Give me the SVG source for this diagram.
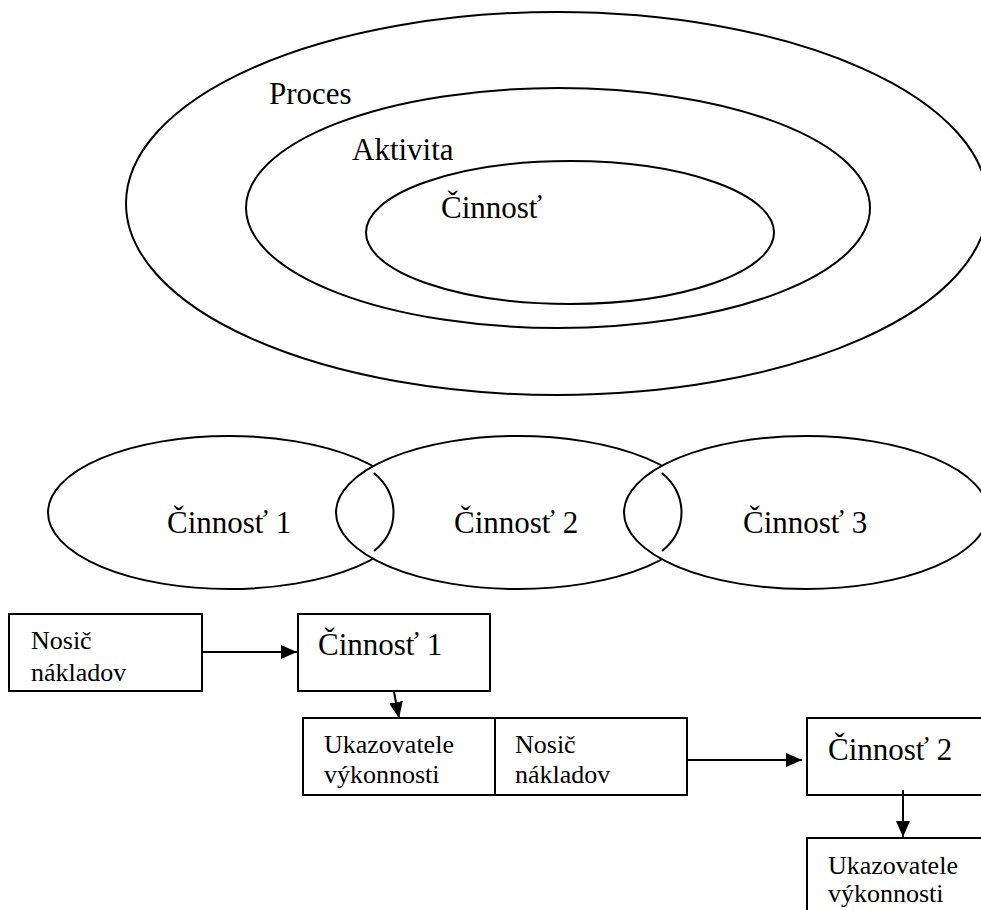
<svg xmlns="http://www.w3.org/2000/svg" width="981" height="910" viewBox="0 0 981 910">
  <style>
    .shape { fill: none; stroke: #000; stroke-width: 2; }
    .filled { fill: #fff; stroke: #000; stroke-width: 2; }
    .big { font-family: "Liberation Serif", "Times New Roman", serif; font-size: 31px; fill: #000; }
    .small { font-family: "Liberation Serif", "Times New Roman", serif; font-size: 26px; fill: #000; }
    .link { fill: none; stroke: #000; stroke-width: 2; marker-end: url(#arrow); }
  </style>
  <defs>
    <marker id="arrow" markerUnits="userSpaceOnUse" markerWidth="16" markerHeight="14" refX="16" refY="7" orient="auto">
      <path d="M0,0 L16,7 L0,14 Z" fill="#000"/>
    </marker>
  </defs>
  <rect width="981" height="910" fill="#fff"/>

  <!-- nested hierarchy: process > activity > task -->
  <g id="proces">
    <ellipse class="shape" cx="557" cy="203.5" rx="431" ry="191.5"/>
    <text class="big" x="269" y="104">Proces</text>
  </g>
  <g id="aktivita">
    <ellipse class="shape" cx="558" cy="208" rx="312" ry="120"/>
    <text class="big" x="352" y="160">Aktivita</text>
  </g>
  <g id="cinnost">
    <ellipse class="shape" cx="570" cy="232.5" rx="204" ry="71.5"/>
    <text class="big" x="441" y="218">Činnosť</text>
  </g>

  <!-- chain of overlapping tasks -->
  <g id="cinnost-1">
    <ellipse class="shape" cx="229" cy="512.5" rx="181" ry="76.5"/>
  </g>
  <g id="cinnost-2">
    <ellipse class="filled" cx="518" cy="512.5" rx="182" ry="76.5"/>
    <path class="shape" d="M374,473 C400,495 400,530 374,551"/>
  </g>
  <g id="cinnost-3">
    <ellipse class="filled" cx="806" cy="512.5" rx="182" ry="76.5"/>
    <path class="shape" d="M662,473 C688,495 688,530 662,551"/>
  </g>
  <g id="chain-labels">
    <text class="big" x="167" y="533">Činnosť 1</text>
    <text class="big" x="454" y="533">Činnosť 2</text>
    <text class="big" x="743" y="533">Činnosť 3</text>
  </g>

  <!-- cost flow boxes -->
  <g id="nosic-1">
    <rect class="shape" x="9" y="614" width="193" height="77"/>
    <text class="small" x="31" y="649">Nosič</text>
    <text class="small" x="31" y="681">nákladov</text>
  </g>
  <g id="box-cinnost-1">
    <rect class="shape" x="298" y="614" width="192" height="77"/>
    <text class="big" x="318" y="655">Činnosť 1</text>
  </g>
  <g id="vystup-1">
    <rect class="shape" x="303" y="718" width="384" height="77"/>
    <line class="shape" x1="495" y1="718" x2="495" y2="795"/>
    <text class="small" x="324" y="753">Ukazovatele</text>
    <text class="small" x="324" y="783">výkonnosti</text>
    <text class="small" x="515" y="753">Nosič</text>
    <text class="small" x="515" y="783">nákladov</text>
  </g>
  <g id="box-cinnost-2">
    <rect class="shape" x="807" y="718" width="190" height="77"/>
    <text class="big" x="828" y="760">Činnosť 2</text>
  </g>
  <g id="vystup-2">
    <rect class="shape" x="807" y="838" width="190" height="90"/>
    <text class="small" x="828" y="874">Ukazovatele</text>
    <text class="small" x="828" y="902">výkonnosti</text>
  </g>

  <g id="connectors">
    <line class="link" x1="202" y1="652" x2="297" y2="652"/>
    <line class="link" x1="394" y1="692" x2="399" y2="718"/>
    <line class="link" x1="687" y1="760" x2="802" y2="760"/>
    <line class="link" x1="903" y1="790" x2="903" y2="837"/>
  </g>
</svg>
